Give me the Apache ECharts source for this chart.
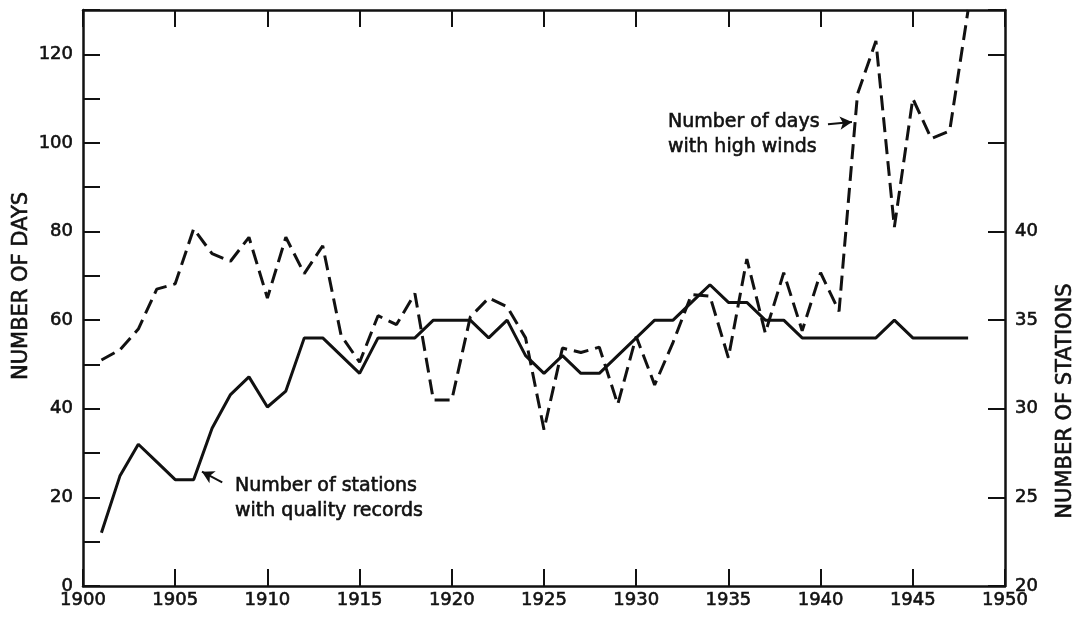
<!DOCTYPE html>
<html>
<head>
<meta charset="utf-8">
<script src="https://cdn.jsdelivr.net/npm/echarts@6/dist/echarts.min.js"></script>
<style>
html,body{margin:0;padding:0;background:#fff;}
#chart{width:1078px;height:617px;}
</style>
</head>
<body>
<div id="chart"></div>
<script>
// ---- data ----
var years = [1901,1902,1903,1904,1905,1906,1907,1908,1909,1910,
             1911,1912,1913,1914,1915,1916,1917,1918,1919,1920,
             1921,1922,1923,1924,1925,1926,1927,1928,1929,1930,
             1931,1932,1933,1934,1935,1936,1937,1938,1939,1940,
             1941,1942,1943,1944,1945,1946,1947,1948];
// Number of days with high winds (left axis)
var daysHighWinds = [51,53.3,58,67,68.2,80.6,75,73.3,78.7,65,
                     78.7,70.5,76.8,56.5,50.5,61,59,66,42,42,
                     60.7,65,63,56,35.3,53.7,52.7,53.9,41,56.3,
                     45.4,55,65.8,65.4,51.5,73.8,57.1,70.7,57.6,70.7,
                     62,111,123,81,110,101,102.7,130];
// Number of stations with quality records (right axis)
var stations = [23,26.2,28,27,26,26,28.9,30.8,31.8,30.1,
                31,34,34,33,32,34,34,34,35,35,
                35,34,35,33,32,33,32,32,33,34,
                35,35,36,37,36,36,35,35,34,34,
                34,34,34,35,34,34,34,34];
var xTicks = [1900,1905,1910,1915,1920,1925,1930,1935,1940,1945,1950];
var leftLabels = [0,20,40,60,80,100,120];
var rightLabels = [20,25,30,35,40];

var daysLabel = ['Number of days', 'with high winds'];
var stationsLabel = ['Number of stations', 'with quality records'];

var FONT = 'DejaVu Sans';
var INK = '#111';

function pairs(xs, ys){ return xs.map(function(x,i){ return [x, ys[i]]; }); }

var tickStyle = {show:true, inside:true, length:17, lineStyle:{color:INK, width:2}};
var lineStyleAxis = {show:true, lineStyle:{color:INK, width:2.5}};
var labelBase = {color:INK, fontFamily:FONT, fontSize:18, textBorderColor:INK, textBorderWidth:0.6};

var chart = echarts.init(document.getElementById('chart'), null, {renderer:'canvas'});
function txt(t, x, y, size, rot){
  var o = {type:'text', x:x, y:y,
    style:{text:t, fill:INK, stroke:INK, lineWidth:0.6, font:size + 'px "DejaVu Sans"',
      textAlign: rot ? 'center' : 'left', textVerticalAlign:'middle'}};
  if (rot) o.rotation = rot;
  return o;
}
var option = {
  backgroundColor:'#fff',
  animation:false,
  grid:{left:83, right:73, top:10, bottom:31, containLabel:false},
  xAxis:[{
    type:'value', min:1900, max:1950, interval:5, position:'bottom',
    axisLine:lineStyleAxis, axisTick:tickStyle, splitLine:{show:false},
    axisLabel:Object.assign({show:true, margin:5, showMinLabel:true, showMaxLabel:true,
      formatter:function(v){ return xTicks.indexOf(v) >= 0 ? String(v) : ''; }}, labelBase)
  },{
    type:'value', min:1900, max:1950, interval:5, position:'top',
    axisLine:lineStyleAxis, axisTick:tickStyle, splitLine:{show:false},
    axisLabel:{show:false}
  }],
  yAxis:[{
    type:'value', min:0, max:130, interval:10, position:'left',
    axisLine:lineStyleAxis, axisTick:tickStyle, splitLine:{show:false},
    axisLabel:Object.assign({margin:10, showMinLabel:true,
      formatter:function(v){ return leftLabels.indexOf(v) >= 0 ? String(v) : ''; }}, labelBase)
  },{
    type:'value', min:20, max:52.5, interval:5, position:'right',
    axisLine:lineStyleAxis, axisTick:tickStyle, splitLine:{show:false},
    axisLabel:Object.assign({margin:10, showMinLabel:true,
      formatter:function(v){ return rightLabels.indexOf(v) >= 0 ? String(v) : ''; }}, labelBase)
  }],
  series:[{
    name:'days', type:'line', xAxisIndex:0, yAxisIndex:0,
    data:pairs(years, daysHighWinds), showSymbol:false, symbol:'none',
    clip:true,
    lineStyle:{color:INK, width:3, type:[15,7]},
    markLine:{
      silent:true, symbol:['none','arrow'], symbolSize:[10,12],
      label:{show:false},
      lineStyle:{color:INK, width:2, type:'solid'},
      data:[[{coord:[1940.4,104.2]},{coord:[1941.7,104.7]}]]
    }
  },{
    name:'stations', type:'line', xAxisIndex:0, yAxisIndex:1,
    data:pairs(years, stations), showSymbol:false, symbol:'none',
    lineStyle:{color:INK, width:3},
    markLine:{
      silent:true, symbol:['none','arrow'], symbolSize:[10,12],
      label:{show:false},
      lineStyle:{color:INK, width:2, type:'solid'},
      data:[[{coord:[1907.55,25.85]},{coord:[1906.45,26.45]}]]
    }
  }],
  graphic:[
    txt('NUMBER OF DAYS', 22, 286, 21, Math.PI/2),
    txt('NUMBER OF STATIONS', 1066, 401, 21, Math.PI/2),
    txt(daysLabel[0], 668, 122, 19),
    txt(daysLabel[1], 668, 147, 19),
    txt(stationsLabel[0], 235, 486, 19),
    txt(stationsLabel[1], 235, 511, 19)
  ]
};
chart.setOption(option);
</script>
</body>
</html>
